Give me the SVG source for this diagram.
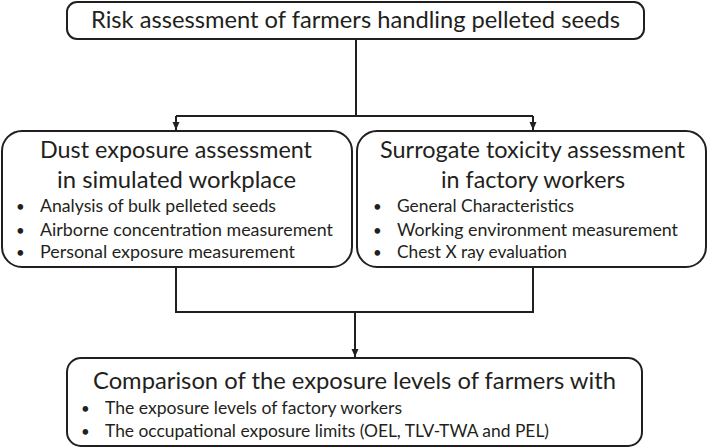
<svg xmlns="http://www.w3.org/2000/svg" width="709" height="448" viewBox="0 0 709 448">
<defs>
<style>
.box{fill:#ffffff;stroke:#231f20;stroke-width:2}
.ln{fill:none;stroke:#231f20;stroke-width:2}
.t{font-family:Lato,"Open Sans","Liberation Sans",sans-serif;fill:#231f20}
.h{font-size:23px}
.b{font-size:17px}
.dot{font-size:15px}
</style>
<marker id="ah" markerUnits="userSpaceOnUse" markerWidth="8" markerHeight="8" refX="8" refY="3.5" orient="auto">
<path d="M0,0 L8,3.5 L0,7 z" fill="#231f20"/>
</marker>
</defs>
<rect width="709" height="448" fill="#ffffff"/>
<g id="connectors">
<path class="ln" d="M356,39 V116 M176,116 H533"/>
<path class="ln" d="M176,116 V130" marker-end="url(#ah)"/>
<path class="ln" d="M533,116 V130" marker-end="url(#ah)"/>
<path class="ln" d="M176,267 V312 H533 V267"/>
<path class="ln" d="M355,312 V357" marker-end="url(#ah)"/>
</g>
<g id="top">
<rect class="box" x="67" y="2" width="577" height="37" rx="10"/>
<text class="t h" x="355.5" y="28" text-anchor="middle" textLength="529" lengthAdjust="spacingAndGlyphs">Risk assessment of farmers handling pelleted seeds</text>
</g>
<g id="left">
<rect class="box" x="2" y="131" width="350" height="136" rx="20"/>
<text class="t h" x="176" y="158" text-anchor="middle" textLength="272" lengthAdjust="spacingAndGlyphs">Dust exposure assessment</text>
<text class="t h" x="176.5" y="188" text-anchor="middle" textLength="239" lengthAdjust="spacingAndGlyphs">in simulated workplace</text>
<text class="t dot" x="16" y="212">•</text>
<text class="t dot" x="16" y="236">•</text>
<text class="t dot" x="16" y="258">•</text>
<text class="t b" x="40" y="212" textLength="236" lengthAdjust="spacingAndGlyphs">Analysis of bulk pelleted seeds</text>
<text class="t b" x="40" y="236" textLength="293" lengthAdjust="spacingAndGlyphs">Airborne concentration measurement</text>
<text class="t b" x="40" y="258" textLength="255" lengthAdjust="spacingAndGlyphs">Personal exposure measurement</text>
</g>
<g id="right">
<rect class="box" x="357" y="131" width="349" height="136" rx="20"/>
<text class="t h" x="532.5" y="158" text-anchor="middle" textLength="305" lengthAdjust="spacingAndGlyphs">Surrogate toxicity assessment</text>
<text class="t h" x="533" y="188" text-anchor="middle" textLength="184" lengthAdjust="spacingAndGlyphs">in factory workers</text>
<text class="t dot" x="373" y="212">•</text>
<text class="t dot" x="373" y="236">•</text>
<text class="t dot" x="373" y="258">•</text>
<text class="t b" x="397" y="212" textLength="177" lengthAdjust="spacingAndGlyphs">General Characteristics</text>
<text class="t b" x="397" y="236" textLength="281" lengthAdjust="spacingAndGlyphs">Working environment measurement</text>
<text class="t b" x="397" y="258" textLength="170" lengthAdjust="spacingAndGlyphs">Chest X ray evaluation</text>
</g>
<g id="bottom">
<rect class="box" x="67" y="358" width="575" height="88" rx="14"/>
<text class="t h" x="354.5" y="389" text-anchor="middle" textLength="523" lengthAdjust="spacingAndGlyphs">Comparison of the exposure levels of farmers with</text>
<text class="t dot" x="81" y="414">•</text>
<text class="t dot" x="81" y="437">•</text>
<text class="t b" x="105" y="414" textLength="297" lengthAdjust="spacingAndGlyphs">The exposure levels of factory workers</text>
<text class="t b" x="105" y="437" textLength="444" lengthAdjust="spacingAndGlyphs">The occupational exposure limits (OEL, TLV-TWA and PEL)</text>
</g>
</svg>
